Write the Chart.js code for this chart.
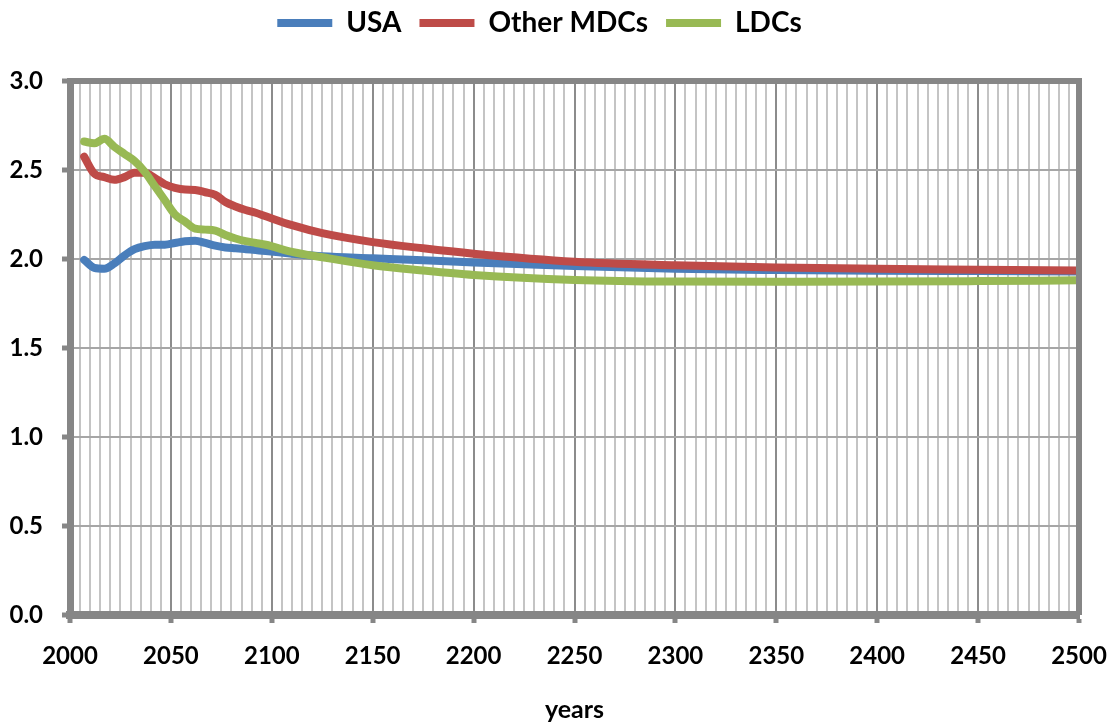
<!DOCTYPE html>
<html>
<head>
<meta charset="utf-8">
<script src="https://cdn.jsdelivr.net/npm/chart.js@4/dist/chart.umd.min.js"></script>
<style>
  html, body { margin: 0; padding: 0; background: #fff; }
  #wrap { width: 1112px; height: 725px; position: relative; }
</style>
</head>
<body>
<div id="wrap"><canvas id="c"></canvas></div>
<script>
const years = [2007, 2012, 2017, 2022, 2027, 2032, 2037, 2042, 2047, 2052, 2057, 2062, 2067, 2072,
  2077, 2082, 2087, 2092, 2097, 2110, 2125, 2150, 2175, 2200, 2250, 2300, 2350, 2400, 2450, 2500];

const usa = [1.995, 1.95, 1.945, 1.975, 2.02, 2.055, 2.072, 2.08, 2.08, 2.09, 2.1, 2.103, 2.09, 2.075,
  2.065, 2.06, 2.055, 2.05, 2.045, 2.03, 2.015, 2.004, 1.993, 1.98, 1.96, 1.945, 1.938, 1.934, 1.932, 1.93];

const otherMdcs = [2.575, 2.48, 2.46, 2.445, 2.46, 2.485, 2.485, 2.455, 2.42, 2.4, 2.39, 2.388, 2.375, 2.36,
  2.32, 2.295, 2.275, 2.26, 2.24, 2.19, 2.145, 2.095, 2.06, 2.03, 1.985, 1.965, 1.952, 1.945, 1.94, 1.935];

const ldcs = [2.66, 2.65, 2.675, 2.63, 2.59, 2.55, 2.49, 2.41, 2.33, 2.25, 2.21, 2.17, 2.165, 2.16,
  2.135, 2.115, 2.1, 2.09, 2.08, 2.04, 2.01, 1.965, 1.935, 1.91, 1.882, 1.873, 1.872, 1.873, 1.876, 1.88];

const seriesNames = ['USA', 'Other MDCs', 'LDCs'];
const seriesColors = ['#4a7ebb', '#be4b48', '#98b954'];

const toPoints = (vals) => vals.map((v, i) => ({ x: years[i], y: v }));

// frame round the plot area (top and right edges)
const frame = {
  id: 'frame',
  afterDatasetsDraw(chart) {
    const { ctx, chartArea: a } = chart;
    ctx.save();
    ctx.strokeStyle = '#868686';
    ctx.lineWidth = 6;
    ctx.beginPath();
    ctx.moveTo(a.left, a.top);
    ctx.lineTo(a.right, a.top);
    ctx.lineTo(a.right, a.bottom);
    ctx.stroke();
    ctx.restore();
  }
};

const font = 'Lato, "Open Sans", sans-serif';

new Chart(document.getElementById('c'), {
  type: 'line',
  data: {
    datasets: [usa, otherMdcs, ldcs].map((vals, i) => ({
      label: seriesNames[i],
      data: toPoints(vals),
      borderColor: seriesColors[i],
      backgroundColor: seriesColors[i],
      borderWidth: 8,
      borderCapStyle: 'round',
      borderJoinStyle: 'round',
      pointRadius: 0,
      tension: 0.4,
      cubicInterpolationMode: 'monotone',
      order: 3 - i
    }))
  },
  options: {
    responsive: true,
    maintainAspectRatio: false,
    animation: false,
    layout: { padding: { left: 0, right: 33, top: -9, bottom: 0 } },
    scales: {
      x: {
        type: 'linear',
        min: 2000,
        max: 2500,
        afterFit: (s) => { s.height = 110; s.paddingLeft = 0; s.paddingRight = 0; },
        ticks: {
          stepSize: 5,
          autoSkip: false,
          maxRotation: 0,
          padding: 19,
          color: '#000',
          font: { family: font, size: 24, weight: 'bold' },
          callback: (v) => (v % 50 === 0 ? String(v) : '')
        },
        grid: {
          color: (c) => (c.tick && c.tick.value % 50 === 0 ? '#8c8c8c' : '#c4c4c4'),
          lineWidth: 2,
          tickLength: 8,
          tickWidth: 5,
          tickColor: (c) => (c.tick && c.tick.value % 50 === 0 ? '#868686' : 'rgba(0,0,0,0)')
        },
        border: { color: '#868686', width: 8 },
        title: {
          display: true,
          text: 'years',
          color: '#000',
          font: { family: font, size: 25, weight: 'bold' },
          padding: { top: 0, bottom: 0 }
        }
      },
      y: {
        min: 0,
        max: 3,
        afterFit: (s) => { s.width = 70; },
        ticks: {
          stepSize: 0.5,
          padding: 19,
          color: '#000',
          font: { family: font, size: 24, weight: 'bold' },
          callback: (v) => Number(v).toFixed(1)
        },
        grid: {
          color: '#a6a6a6',
          lineWidth: 2,
          tickLength: 8,
          tickWidth: 5,
          tickColor: '#868686'
        },
        border: { color: '#868686', width: 7 }
      }
    },
    plugins: {
      legend: {
        position: 'top',
        weight: 3000,
        reverse: true,
        labels: {
          color: '#000',
          font: { family: font, size: 28, weight: 'bold' },
          usePointStyle: true,
          pointStyle: 'line',
          pointStyleWidth: 55,
          padding: 18
        }
      },
      // blank spacer between legend and plot area
      subtitle: {
        display: true,
        text: '',
        font: { size: 10 },
        padding: { top: 0, bottom: 22 }
      },
      tooltip: { enabled: false }
    }
  },
  plugins: [frame]
});
</script>
</body>
</html>
